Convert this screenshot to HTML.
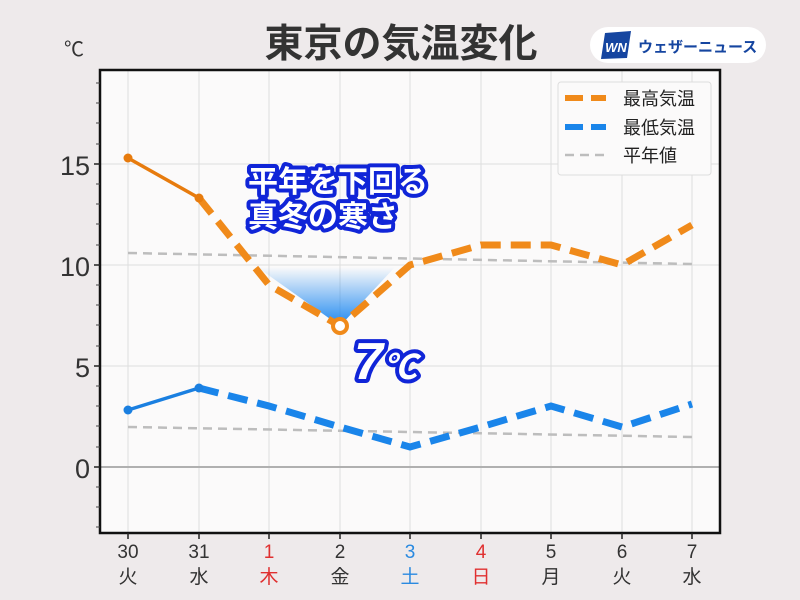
<!DOCTYPE html>
<html><head><meta charset="utf-8"><style>
body{margin:0;background:#eeeaeb;}
svg{display:block;font-family:"Liberation Sans","Noto Sans CJK JP",sans-serif;}
</style></head><body>
<svg width="800" height="600" viewBox="0 0 800 600" xmlns="http://www.w3.org/2000/svg">
<defs>
<linearGradient id="g" x1="0" y1="0" x2="0" y2="1"><stop offset="0" stop-color="#1e88f0" stop-opacity="0"/><stop offset="1" stop-color="#1e88f0"/></linearGradient>
</defs>
<rect width="800" height="600" fill="#eeeaeb"/>
<rect x="100" y="70" width="620" height="463" fill="#fbfafa"/>
<g stroke="#dedede" stroke-width="1">
<line x1="128" y1="70" x2="128" y2="533"/><line x1="199" y1="70" x2="199" y2="533"/><line x1="269" y1="70" x2="269" y2="533"/><line x1="340" y1="70" x2="340" y2="533"/><line x1="410" y1="70" x2="410" y2="533"/><line x1="481" y1="70" x2="481" y2="533"/><line x1="551" y1="70" x2="551" y2="533"/><line x1="622" y1="70" x2="622" y2="533"/><line x1="692" y1="70" x2="692" y2="533"/>
<line x1="100" y1="164" x2="720" y2="164"/><line x1="100" y1="265" x2="720" y2="265"/><line x1="100" y1="366" x2="720" y2="366"/>
</g>
<line x1="100" y1="467" x2="720" y2="467" stroke="#b0b0b0" stroke-width="2"/>
<polyline points="128,253 692,264" fill="none" stroke="#bdbdbd" stroke-width="2.5" stroke-dasharray="9,6"/>
<polyline points="128,427 692,437" fill="none" stroke="#bdbdbd" stroke-width="2.5" stroke-dasharray="9,6"/>
<polygon points="257,267 395,267 340,326" fill="url(#g)"/>
<line x1="128" y1="158" x2="199" y2="198" stroke="#e77b0d" stroke-width="3.5"/>
<polyline points="199,198 269,285 340,326 410,265 481,245 551,245 622,265 692,225" fill="none" stroke="#f08a1a" stroke-width="7" stroke-dasharray="20,10"/>
<circle cx="128" cy="158" r="4.5" fill="#e77b0d"/><circle cx="199" cy="198" r="4.5" fill="#e77b0d"/>
<circle cx="340" cy="326" r="7" fill="#fff" stroke="#f08a1a" stroke-width="4"/>
<line x1="128" y1="410" x2="199" y2="388" stroke="#1a7fe0" stroke-width="3.5"/>
<polyline points="199,388 269,406 340,427 410,447 481,427 551,406 622,427 692,404" fill="none" stroke="#1a85ea" stroke-width="7" stroke-dasharray="20,10"/>
<circle cx="128" cy="410" r="4.5" fill="#1a7fe0"/><circle cx="199" cy="388" r="4.5" fill="#1a7fe0"/>
<rect x="100" y="70" width="620" height="463" fill="none" stroke="#111" stroke-width="2.5"/>
<g stroke="#222" stroke-width="1.5">
<line x1="94" y1="164" x2="100" y2="164"/><line x1="94" y1="265" x2="100" y2="265"/><line x1="94" y1="366" x2="100" y2="366"/><line x1="94" y1="467" x2="100" y2="467"/>
<line x1="128" y1="533" x2="128" y2="539"/><line x1="199" y1="533" x2="199" y2="539"/><line x1="269" y1="533" x2="269" y2="539"/><line x1="340" y1="533" x2="340" y2="539"/><line x1="410" y1="533" x2="410" y2="539"/><line x1="481" y1="533" x2="481" y2="539"/><line x1="551" y1="533" x2="551" y2="539"/><line x1="622" y1="533" x2="622" y2="539"/><line x1="692" y1="533" x2="692" y2="539"/>
</g>
<g stroke="#444" stroke-width="1">
<line x1="96" y1="83" x2="100" y2="83"/><line x1="96" y1="103" x2="100" y2="103"/><line x1="96" y1="123" x2="100" y2="123"/><line x1="96" y1="144" x2="100" y2="144"/><line x1="96" y1="184" x2="100" y2="184"/><line x1="96" y1="204" x2="100" y2="204"/><line x1="96" y1="224" x2="100" y2="224"/><line x1="96" y1="245" x2="100" y2="245"/><line x1="96" y1="285" x2="100" y2="285"/><line x1="96" y1="305" x2="100" y2="305"/><line x1="96" y1="325" x2="100" y2="325"/><line x1="96" y1="346" x2="100" y2="346"/><line x1="96" y1="386" x2="100" y2="386"/><line x1="96" y1="406" x2="100" y2="406"/><line x1="96" y1="426" x2="100" y2="426"/><line x1="96" y1="447" x2="100" y2="447"/><line x1="96" y1="487" x2="100" y2="487"/><line x1="96" y1="507" x2="100" y2="507"/><line x1="96" y1="527" x2="100" y2="527"/>
</g>
<g font-size="27" fill="#333" text-anchor="end">
<text x="90" y="175">15</text><text x="90" y="276">10</text><text x="90" y="377">5</text><text x="90" y="478">0</text>
</g>
<text x="64" y="56" font-size="20" fill="#333">℃</text>
<g font-size="19" fill="#333" text-anchor="middle">
<text x="128" y="558">30</text><text x="199" y="558">31</text><text x="269" y="558" fill="#e03030">1</text><text x="340" y="558">2</text><text x="410" y="558" fill="#2a8ae0">3</text><text x="481" y="558" fill="#e03030">4</text><text x="551" y="558">5</text><text x="622" y="558">6</text><text x="692" y="558">7</text>
<text x="128" y="583">火</text><text x="199" y="583">水</text><text x="269" y="583" fill="#e03030">木</text><text x="340" y="583">金</text><text x="410" y="583" fill="#2a8ae0">土</text><text x="481" y="583" fill="#e03030">日</text><text x="551" y="583">月</text><text x="622" y="583">火</text><text x="692" y="583">水</text>
</g>
<text x="401" y="57" font-size="39" font-weight="bold" fill="#333" text-anchor="middle">東京の気温変化</text>
<rect x="590" y="27" width="176" height="36" rx="18" fill="#fff"/>
<polygon points="605,33 631,31 627,58 601,59" fill="#1545a0"/>
<text x="616" y="52" font-size="13" font-weight="bold" font-style="italic" fill="#fff" text-anchor="middle">WN</text>
<text x="638" y="52" font-size="15" font-weight="bold" fill="#1545a0">ウェザーニュース</text>
<rect x="558" y="82" width="153" height="93" rx="3" fill="#fbfafa" stroke="#ddd"/>
<line x1="565" y1="98" x2="606" y2="98" stroke="#f08a1a" stroke-width="6" stroke-dasharray="18,8"/>
<line x1="565" y1="127" x2="606" y2="127" stroke="#1a85ea" stroke-width="6" stroke-dasharray="18,8"/>
<line x1="565" y1="155" x2="606" y2="155" stroke="#bdbdbd" stroke-width="2.5" stroke-dasharray="9,6"/>
<g font-size="18" fill="#222"><text x="623" y="105">最高気温</text><text x="623" y="134">最低気温</text><text x="623" y="162">平年値</text></g>
<g font-weight="bold" fill="#fff" stroke="#1025d8" stroke-width="8" stroke-linejoin="round" paint-order="stroke">
<text x="248" y="192" font-size="30">平年を下回る</text><text x="248" y="227" font-size="30">真冬の寒さ</text>
<text x="354" y="379" font-size="52" font-style="italic">7<tspan font-size="34">℃</tspan></text>
</g>
</svg>
</body></html>
